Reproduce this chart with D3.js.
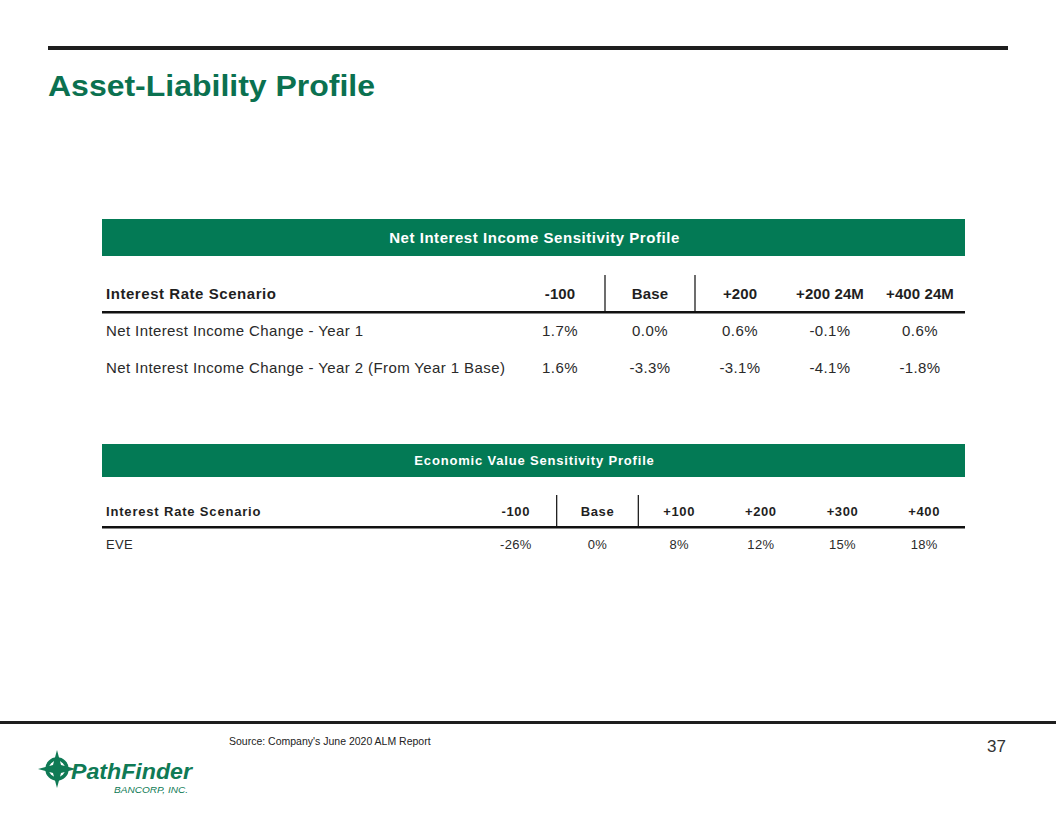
<!DOCTYPE html>
<html>
<head>
<meta charset="utf-8">
<script src="https://cdn.jsdelivr.net/npm/d3@7/dist/d3.min.js"></script>
<style>
html,body{margin:0;padding:0;background:#fff;}
svg{display:block;}
text{font-family:"Liberation Sans",Arial,sans-serif;}
</style>
</head>
<body>
<svg id="c" width="1056" height="816"></svg>
<script>
// ---------- DATA ----------
const pageTitle = "Asset-Liability Profile";
const niiTitle = "Net Interest Income Sensitivity Profile";
const niiScenarios = ["-100", "Base", "+200", "+200 24M", "+400 24M"];
const niiRowLabels = ["Net Interest Income Change - Year 1", "Net Interest Income Change - Year 2 (From Year 1 Base)"];
const niiYear1 = [1.7, 0.0, 0.6, -0.1, 0.6];
const niiYear2 = [1.6, -3.3, -3.1, -4.1, -1.8];

const eveTitle = "Economic Value Sensitivity Profile";
const eveScenarios = ["-100", "Base", "+100", "+200", "+300", "+400"];
const eveRowLabels = ["EVE"];
const eveValues = [-26, 0, 8, 12, 15, 18];

const sourceNote = "Source: Company's June 2020 ALM Report";
const pageNumber = "37";

// ---------- DRAW ----------
const svg = d3.select("#c");
const GREEN = "#037a55";
const TITLE_GREEN = "#0b7150";
const INK = "#1f1f1f";

// top rule
svg.append("rect").attr("x", 48).attr("y", 46).attr("width", 960).attr("height", 4).attr("fill", "#1e1e1e");
// title
svg.append("text").attr("x", 48).attr("y", 96)
  .attr("font-size", 30).attr("font-weight", "bold").attr("fill", TITLE_GREEN)
  .attr("textLength", 327).attr("lengthAdjust", "spacingAndGlyphs")
  .text(pageTitle);

function drawTable(cfg) {
  const g = svg.append("g");
  // green title bar
  g.append("rect").attr("x", cfg.x0).attr("y", cfg.barY).attr("width", cfg.x1 - cfg.x0).attr("height", cfg.barH).attr("fill", GREEN);
  g.append("text").attr("x", (cfg.x0 + cfg.x1) / 2 + 1).attr("y", cfg.barY + cfg.barH / 2 + cfg.fs * 0.36)
    .attr("text-anchor", "middle").attr("fill", "#fff").attr("font-weight", "bold")
    .attr("font-size", cfg.fs).attr("letter-spacing", cfg.ls)
    .text(cfg.title);

  const xBand = d3.scaleBand().domain(cfg.scenarios).range([cfg.colStart, cfg.x1]);
  const yRow = d3.scalePoint().domain(d3.range(cfg.rows.length + 1)).range([cfg.headY, cfg.headY + cfg.rowH * cfg.rows.length]);

  // header row
  g.append("text").attr("x", cfg.x0 + 4).attr("y", yRow(0) + cfg.fs * 0.36)
    .attr("font-weight", "bold").attr("font-size", cfg.fs).attr("letter-spacing", cfg.ls).attr("fill", INK)
    .text("Interest Rate Scenario");
  g.selectAll(".hd").data(cfg.scenarios).join("text")
    .attr("x", d => xBand(d) + xBand.bandwidth() / 2).attr("y", yRow(0) + cfg.fs * 0.36)
    .attr("text-anchor", "middle").attr("font-weight", "bold").attr("font-size", cfg.fs)
    .attr("letter-spacing", cfg.lsHead).attr("fill", INK)
    .text(d => d);

  // separator verticals around "Base"
  const sepX = [xBand(cfg.scenarios[1]), xBand(cfg.scenarios[2])];
  g.selectAll(".vs").data(sepX).join("line")
    .attr("x1", d => d).attr("x2", d => d)
    .attr("y1", cfg.vTop).attr("y2", cfg.lineY)
    .attr("stroke", INK).attr("stroke-width", 1.3);
  // header underline
  g.append("rect").attr("x", cfg.x0).attr("y", cfg.lineY - 1).attr("width", cfg.x1 - cfg.x0).attr("height", 2.5).attr("fill", "#111");

  // data rows
  cfg.rows.forEach((vals, i) => {
    const y = yRow(i + 1) + cfg.fs * 0.36;
    g.append("text").attr("x", cfg.x0 + 4).attr("y", y).attr("font-size", cfg.fs)
      .attr("letter-spacing", cfg.lsBody).attr("fill", "#2a2a2a").text(cfg.rowLabels[i]);
    g.selectAll(".v" + i).data(vals).join("text")
      .attr("x", (d, j) => xBand(cfg.scenarios[j]) + xBand.bandwidth() / 2)
      .attr("y", y).attr("text-anchor", "middle").attr("font-size", cfg.fs)
      .attr("letter-spacing", cfg.lsBody).attr("fill", "#2a2a2a")
      .text(d => cfg.fmt(d));
  });
}

drawTable({
  title: niiTitle, scenarios: niiScenarios, rows: [niiYear1, niiYear2], rowLabels: niiRowLabels,
  x0: 102, x1: 965, colStart: 515, barY: 219, barH: 37, fs: 15, ls: 0.55, lsHead: 0.1, lsBody: 0.4,
  headY: 294, rowH: 37, vTop: 275, lineY: 312,
  fmt: d => d3.format(".1f")(d).replace("−", "-") + "%"
});

drawTable({
  title: eveTitle, scenarios: eveScenarios, rows: [eveValues], rowLabels: eveRowLabels,
  x0: 102, x1: 965, colStart: 475, barY: 444, barH: 33, fs: 13, ls: 0.82, lsHead: 0.6, lsBody: 0.3,
  headY: 511, rowH: 33, vTop: 495, lineY: 527,
  fmt: d => d3.format("d")(d).replace("−", "-") + "%"
});

// bottom rule
svg.append("rect").attr("x", 0).attr("y", 721).attr("width", 1056).attr("height", 3).attr("fill", "#1e1e1e");
svg.append("text").attr("x", 229).attr("y", 745).attr("font-size", 10.5).attr("fill", "#222").text(sourceNote);
svg.append("text").attr("x", 1006).attr("y", 752).attr("text-anchor", "end").attr("font-size", 17).attr("fill", "#333").text(pageNumber);

// logo
const logo = svg.append("g").attr("fill", "#0f7a55");
const cx = 57, cy = 769;
const star = [[0,-19],[4,-4],[19,0],[4,4],[0,19],[-4,4],[-19,0],[-4,-4]];
logo.append("circle").attr("cx", cx).attr("cy", cy).attr("r", 10).attr("fill", "none").attr("stroke", "#0f7a55").attr("stroke-width", 3.5);
logo.append("path").attr("d", d3.line()(star.map(p => [cx + p[0], cy + p[1]])) + "Z");
logo.append("text").attr("x", 71).attr("y", 779).attr("font-size", 22).attr("font-weight", "bold").attr("font-style", "italic")
  .attr("textLength", 121).attr("lengthAdjust", "spacingAndGlyphs").text("PathFinder");
logo.append("text").attr("x", 114).attr("y", 793).attr("font-size", 9).attr("font-style", "italic")
  .attr("textLength", 74).attr("lengthAdjust", "spacingAndGlyphs").text("BANCORP, INC.");
</script>
</body>
</html>
